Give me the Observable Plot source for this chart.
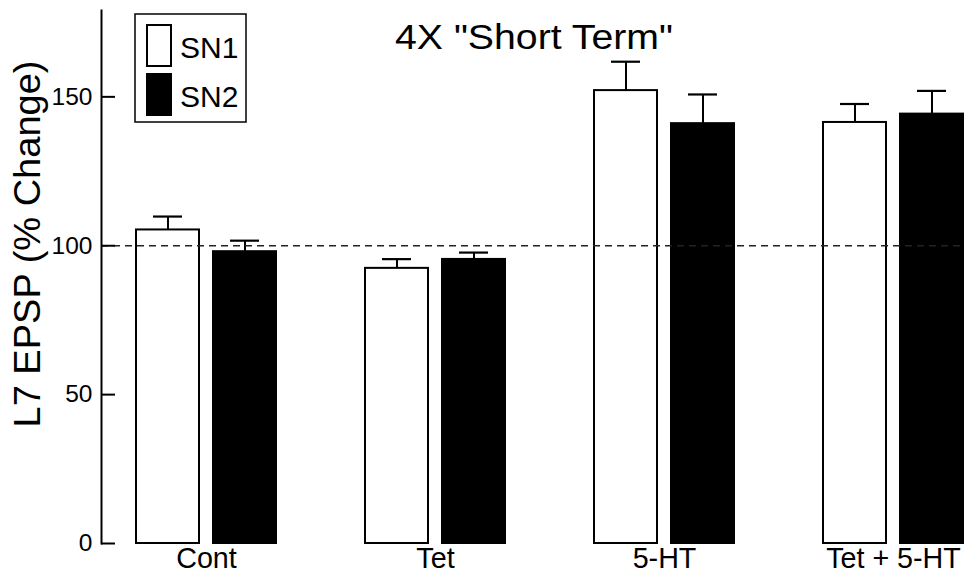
<!DOCTYPE html>
<html>
<head>
<meta charset="utf-8">
<script src="https://cdn.jsdelivr.net/npm/d3@7"></script>
<script src="https://cdn.jsdelivr.net/npm/@observablehq/plot@0.6"></script>
<style>
  html, body { margin: 0; padding: 0; background: #fff; }
  #wrap { position: relative; width: 979px; height: 578px; }
  #wrap > svg { position: absolute; left: 0; top: 0; }
  #wrap > svg.layer { pointer-events: none; }
</style>
</head>
<body>
<div id="wrap"></div>
<script>
// ---- data ----
const groups = ["Cont", "Tet", "5-HT", "Tet + 5-HT"];
const seriesNames = ["SN1", "SN2"];
const sn1Values = [105.3, 92.4, 152.1, 141.4];
const sn1Errors = [4.5, 3.1, 9.7, 6.2];
const sn2Values = [98.0, 95.4, 141.0, 144.2];
const sn2Errors = [3.7, 2.3, 9.8, 7.8];
const yTicks = [0, 50, 100, 150];
const baseline = [100];
const seriesColors = ["white", "black"];
const titleText = "4X \"Short Term\"";
const yLabel = "L7 EPSP (% Change)";

const rows = groups.flatMap((g, i) => [
  {group: g, series: "SN1", value: sn1Values[i], err: sn1Errors[i]},
  {group: g, series: "SN2", value: sn2Values[i], err: sn2Errors[i]}
]);

const FONT = "'Liberation Sans', Arial, Helvetica, sans-serif";

const common = {
  width: 979,
  height: 578,
  marginLeft: 101,
  marginRight: 16,
  marginTop: 10,
  marginBottom: 35
};
const yScale = {domain: [0, 179]};

// bars (faceted by condition)
const chart = Plot.plot({
  ...common,
  style: {fontFamily: FONT, background: "white", color: "black", overflow: "visible"},
  fx: {domain: groups, paddingInner: 0.39, paddingOuter: 0.07, align: 1, label: null},
  x: {domain: seriesNames, paddingInner: 0.184, paddingOuter: 0, axis: null},
  y: {...yScale, axis: null},
  color: {domain: seriesNames, range: seriesColors},
  marks: [
    Plot.barY(rows, {fx: "group", x: "series", y: "value", fill: "series", stroke: "black", strokeWidth: 2}),
    Plot.ruleX(rows, {fx: "group", x: "series", y1: "value", y2: d => d.value + d.err, stroke: "black", strokeWidth: 2}),
    Plot.tickY(rows, {fx: "group", x: "series", y: d => d.value + d.err, stroke: "black", strokeWidth: 2.2, inset: 17}),
    Plot.axisFx({anchor: "bottom", tickSize: 0, tickPadding: 4, fontSize: 28.7, label: null})
  ]
});

// the reference's category labels are set in a tall, narrow face: stretch vertically
d3.select(chart).selectAll('g[aria-label="fx-axis tick-label"] text')
  .attr("transform", function() {
    const t = this.getAttribute("transform") || "";
    return t + " scale(1,1.22)";
  });

// y axis and 100% reference line (same y scale, not faceted)
const axisLayer = Plot.plot({
  ...common,
  style: {fontFamily: FONT, background: "transparent", color: "black", overflow: "visible"},
  y: yScale,
  marks: [
    Plot.ruleY(baseline, {stroke: "#222", strokeWidth: 1.3, strokeDasharray: "7,5"}),
    Plot.frame({anchor: "left", stroke: "black", strokeWidth: 2}),
    Plot.axisY({ticks: yTicks, tickSize: -14, strokeWidth: 2, fontSize: 24.5, label: null})
  ]
});

const wrap = document.getElementById("wrap");
wrap.appendChild(chart);
axisLayer.classList.add("layer");
wrap.appendChild(axisLayer);

// ---- overlay: title, y label, legend ----
const ov = d3.select(wrap).append("svg")
  .attr("class", "layer")
  .attr("width", 979).attr("height", 578)
  .style("font-family", FONT);

ov.append("text")
  .attr("x", 395).attr("y", 49)
  .attr("font-size", 35)
  .attr("textLength", 278).attr("lengthAdjust", "spacingAndGlyphs")
  .text(titleText);

ov.append("text")
  .attr("transform", "translate(40,244) rotate(-90)")
  .attr("text-anchor", "middle")
  .attr("font-size", 37)
  .attr("textLength", 367).attr("lengthAdjust", "spacingAndGlyphs")
  .text(yLabel);

const lg = ov.append("g");
lg.append("rect").attr("x", 135).attr("y", 14).attr("width", 111).attr("height", 108)
  .attr("fill", "white").attr("stroke", "black").attr("stroke-width", 1.5);
seriesNames.forEach((s, i) => {
  lg.append("rect").attr("x", 147).attr("y", 25 + i * 49).attr("width", 24).attr("height", 41)
    .attr("fill", seriesColors[i]).attr("stroke", "black").attr("stroke-width", 2);
  lg.append("text").attr("x", 180).attr("y", 58 + i * 48.5).attr("font-size", 30).text(s);
});
</script>
</body>
</html>
